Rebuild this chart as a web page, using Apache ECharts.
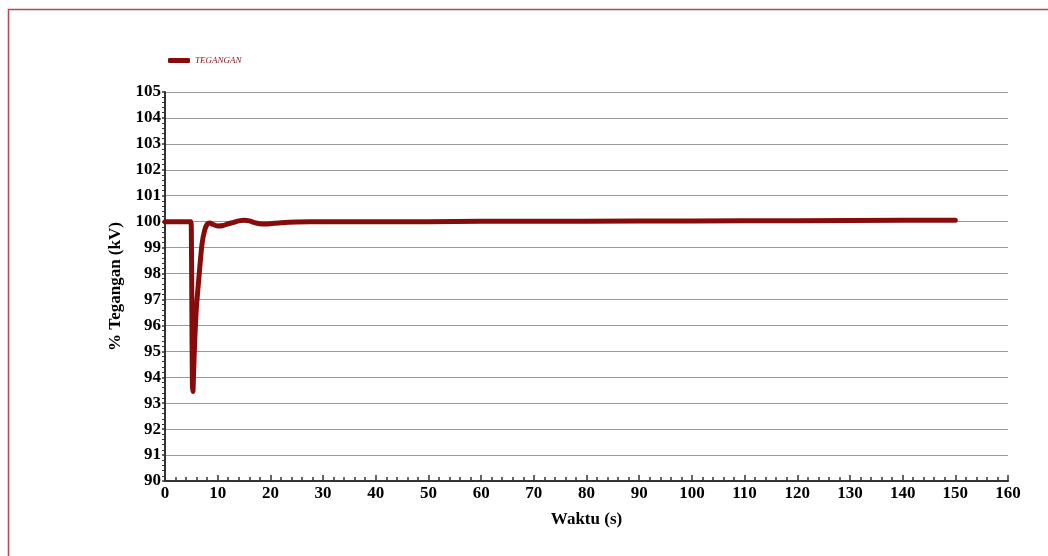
<!DOCTYPE html>
<html>
<head>
<meta charset="utf-8">
<script src="https://cdn.jsdelivr.net/npm/echarts@6/dist/echarts.min.js"></script>
<style>
  html, body { margin: 0; padding: 0; background: #fff; }
  #chart { width: 1048px; height: 556px; }
</style>
</head>
<body>
<div id="chart"></div>
<script>
// Time samples (s) and voltage (% of nominal) for the TEGANGAN trace
const waktu = [0, 4.9, 5.0, 5.1, 5.2, 5.3, 5.4, 5.6, 5.8, 6.0, 6.5, 7.0, 7.5, 8.0, 8.5, 9, 10, 11, 12, 13, 14, 15, 16, 17, 18, 19, 20, 22, 25, 30, 40, 50, 60, 80, 100, 120, 140, 150];
const tegangan = [100, 100, 99.6, 96.5, 93.7, 93.45, 94.0, 95.2, 96.1, 96.8, 98.0, 99.1, 99.65, 99.9, 99.95, 99.9, 99.83, 99.85, 99.92, 99.97, 100.03, 100.05, 100.03, 99.96, 99.92, 99.91, 99.92, 99.96, 99.99, 100.0, 100.0, 100.0, 100.02, 100.02, 100.03, 100.04, 100.05, 100.05];
const seriesName = 'TEGANGAN';
const xTitle = 'Waktu (s)';
const yTitle = '% Tegangan (kV)';

const serif = '"Liberation Serif", "Times New Roman", serif';
const chart = echarts.init(document.getElementById('chart'));
chart.setOption({
  animation: false,
  backgroundColor: '#fff',
  graphic: [{
    type: 'rect',
    shape: { x: 8.5, y: 9.5, width: 1200, height: 700 },
    style: { fill: 'none', stroke: '#b5474d', lineWidth: 1.5 },
    silent: true
  }],
  legend: {
    left: 163, top: 51,
    icon: 'roundRect',
    itemWidth: 22, itemHeight: 5,
    itemGap: 10,
    textStyle: { fontFamily: serif, fontStyle: 'italic', fontSize: 9, color: '#8b1c22' },
    data: [seriesName]
  },
  grid: { left: 165, right: 40, top: 92, bottom: 75, containLabel: false },
  xAxis: {
    type: 'value', min: 0, max: 160, interval: 10,
    name: xTitle, nameLocation: 'middle', nameGap: 30,
    nameTextStyle: { fontFamily: serif, fontWeight: 'bold', fontSize: 17, color: '#000' },
    axisLine: { show: true, onZero: false, lineStyle: { color: '#333', width: 2 } },
    axisTick: { show: true, inside: true, length: 6, lineStyle: { color: '#333', width: 1.5 } },
    minorTick: { show: true, splitNumber: 5, length: 4, lineStyle: { color: '#333', width: 1.5 } },
    axisLabel: { fontFamily: serif, fontWeight: 'bold', fontSize: 17, color: '#000', margin: 4 },
    splitLine: { show: false }
  },
  yAxis: {
    type: 'value', min: 90, max: 105, interval: 1,
    name: yTitle, nameLocation: 'middle', nameGap: 39, nameRotate: 90,
    nameTextStyle: { fontFamily: serif, fontWeight: 'bold', fontSize: 17, color: '#000' },
    axisLine: { show: true, onZero: false, lineStyle: { color: '#333', width: 2 } },
    axisTick: { show: true, inside: false, length: 3, lineStyle: { color: '#333', width: 1.5 } },
    minorTick: { show: true, splitNumber: 5, length: 3, lineStyle: { color: '#333', width: 1 } },
    axisLabel: { fontFamily: serif, fontWeight: 'bold', fontSize: 17, color: '#000', margin: 4 },
    splitLine: { show: true, lineStyle: { color: '#9a9a9a', width: 1.2 } }
  },
  series: [{
    name: seriesName,
    type: 'line',
    data: waktu.map((t, i) => [t, tegangan[i]]),
    showSymbol: false,
    smooth: 0.2,
    lineStyle: { color: '#860c0c', width: 5, cap: 'round', join: 'round' },
    itemStyle: { color: '#860c0c' }
  }]
});
</script>
</body>
</html>
